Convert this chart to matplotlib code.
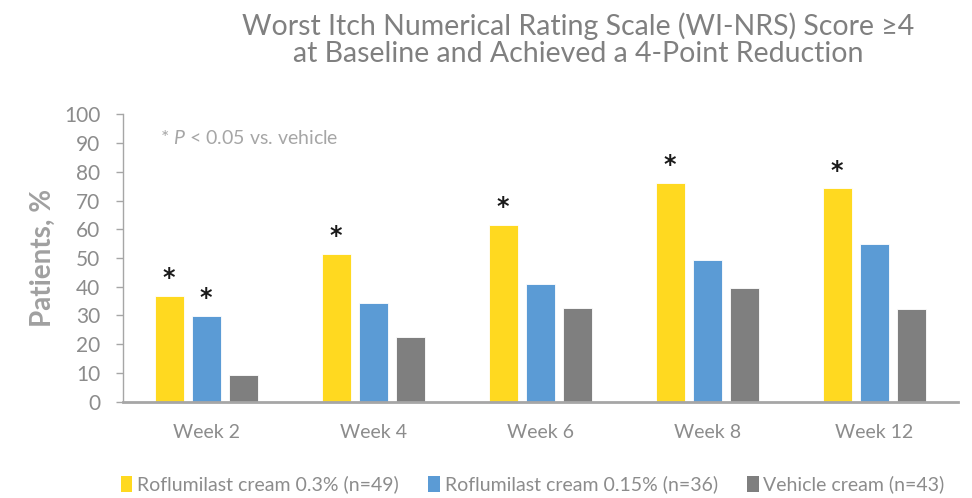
import matplotlib
matplotlib.use("Agg")
import matplotlib.pyplot as plt
import numpy as np
from matplotlib.patches import Patch

plt.rcParams['font.family'] = ['Lato', 'DejaVu Sans']
plt.rcParams['mathtext.fontset'] = 'custom'
plt.rcParams['mathtext.it'] = 'Lato:italic'
plt.rcParams['mathtext.rm'] = 'Lato'

categories = ["Week 2", "Week 4", "Week 6", "Week 8", "Week 12"]
series_names = ["Roflumilast cream 0.3% (n=49)",
                "Roflumilast cream 0.15% (n=36)",
                "Vehicle cream (n=43)"]
roflu_03 = [36.8, 51.4, 61.5, 76.1, 74.2]
roflu_015 = [29.8, 34.2, 40.8, 49.3, 54.9]
vehicle = [9.2, 22.4, 32.5, 39.7, 32.3]
sig_03 = [True, True, True, True, True]
sig_015 = [True, False, False, False, False]
colors = ["#FFD920", "#5B9BD5", "#7F7F7F"]

fig = plt.figure(figsize=(9.72, 4.98), dpi=100)
ax = fig.add_axes([0.1262, 0.1934, 0.859, 0.5771])

x = np.arange(len(categories))
width = 0.174
step = 0.222
all_series = [roflu_03, roflu_015, vehicle]
for i, (vals, c) in enumerate(zip(all_series, colors)):
    ax.bar(x + (i - 1) * step, vals, width, color=c, edgecolor='white',
           linewidth=0.6, zorder=2)

for xi, v, s in zip(x, roflu_03, sig_03):
    if s:
        ax.text(xi - step, v + 2.0, "*", ha='center', va='bottom',
                fontsize=17, fontweight='bold', color='#1a1a1a',
                family='DejaVu Sans')
for xi, v, s in zip(x, roflu_015, sig_015):
    if s:
        ax.text(xi, v + 2.0, "*", ha='center', va='bottom',
                fontsize=17, fontweight='bold', color='#1a1a1a',
                family='DejaVu Sans')

ax.set_xlim(-0.5, 4.5)
ax.set_ylim(0, 100)
ax.set_yticks(range(0, 101, 10))
ax.set_xticks(x)
ax.set_xticklabels(categories)
ax.tick_params(axis='x', length=0, pad=16, labelsize=14, labelcolor='#8c8c8c')
ax.tick_params(axis='y', length=5, width=1, color='#a6a6a6', pad=11,
               labelsize=15, labelcolor='#8c8c8c')
for sp in ['top', 'right']:
    ax.spines[sp].set_visible(False)
ax.spines['left'].set_color('#a6a6a6')
ax.spines['left'].set_linewidth(1)
ax.spines['bottom'].set_color('#a6a6a6')
ax.spines['bottom'].set_linewidth(2)
ax.spines['bottom'].set_zorder(3)

ax.set_ylabel("Patients, %", fontsize=20, fontweight='bold', color='#a0a0a0',
              labelpad=6)

fig.text(0.595, 0.975, "Worst Itch Numerical Rating Scale (WI-NRS) Score \u22654\nat Baseline and Achieved a 4-Point Reduction",
         ha='center', va='top', fontsize=20.5, color='#808080', linespacing=1.05,
         family=['Lato', 'DejaVu Sans'])

ax.text(0.045, 0.917, r"* $\mathit{P}$ < 0.05 vs. vehicle", transform=ax.transAxes,
        ha='left', va='center', fontsize=14, color='#a6a6a6')

handles = [Patch(facecolor=c, edgecolor='none') for c in colors]
fig.legend(handles, series_names, loc='center', bbox_to_anchor=(0.548, 0.027),
           ncol=3, frameon=False, fontsize=14, labelcolor='#8c8c8c',
           handlelength=0.6, handleheight=0.9, handletextpad=0.25,
           columnspacing=1.5)

fig.savefig("out.png", dpi=100)
